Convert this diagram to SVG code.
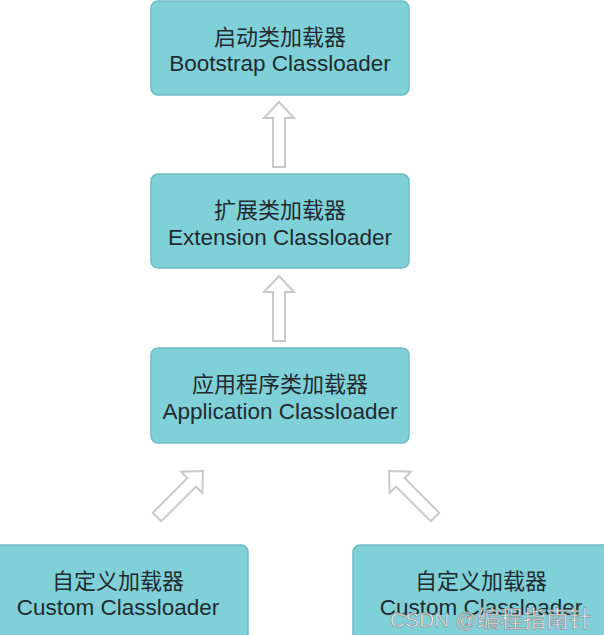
<svg xmlns="http://www.w3.org/2000/svg" width="604" height="635" viewBox="0 0 604 635">
<defs>
<style>
.box{fill:#80d0d7;stroke:#6cbcc4;stroke-width:1.5}
.cn{font-family:"Noto Sans CJK SC","Liberation Sans",sans-serif;font-size:22px;fill:#1f2b30;text-anchor:middle}
.en{font-family:"Liberation Sans","Noto Sans CJK SC",sans-serif;font-size:22.5px;fill:#1f2b30;text-anchor:middle}
.arr{fill:#ffffff;stroke:#c9c9c9;stroke-width:2;stroke-linejoin:miter}
.wm{fill:#ffffff;fill-opacity:0.9;stroke:#8a8a8a;stroke-width:0.8;stroke-opacity:0.8}
</style>
<path id="arrow" d="M0,0 L15,16 L6,16 L6,65 L-6,65 L-6,16 L-15,16 Z"/>
</defs>
<rect width="604" height="635" fill="#ffffff"/>
<g id="connectors">
<use href="#arrow" class="arr" transform="translate(279,102)"/>
<use href="#arrow" class="arr" transform="translate(279,276)"/>
<use href="#arrow" class="arr" transform="translate(203,471) rotate(45)"/>
<use href="#arrow" class="arr" transform="translate(389,471) rotate(-45)"/>
</g>
<g id="bootstrap">
<rect class="box" x="151" y="1" width="258" height="94" rx="7"/>
<text class="cn" x="280" y="45">启动类加载器</text>
<text class="en" x="280" y="71">Bootstrap Classloader</text>
</g>
<g id="extension">
<rect class="box" x="151" y="174" width="258" height="94" rx="7"/>
<text class="cn" x="280" y="218">扩展类加载器</text>
<text class="en" x="280" y="245">Extension Classloader</text>
</g>
<g id="application">
<rect class="box" x="151" y="348" width="258" height="95" rx="7"/>
<text class="cn" x="280" y="392">应用程序类加载器</text>
<text class="en" x="280" y="419">Application Classloader</text>
</g>
<g id="custom1">
<rect class="box" x="-12" y="545" width="260" height="100" rx="7"/>
<text class="cn" x="118" y="589">自定义加载器</text>
<text class="en" x="118" y="615">Custom Classloader</text>
</g>
<g id="custom2">
<rect class="box" x="353" y="545" width="260" height="100" rx="7"/>
<text class="cn" x="481" y="589">自定义加载器</text>
<text class="en" x="481" y="615">Custom Classloader</text>
</g>
<text class="wm" x="390" y="627"><tspan font-family="Liberation Sans, sans-serif" font-size="21">CSDN @</tspan><tspan font-family="Noto Sans CJK SC, sans-serif" font-size="23">编程指南针</tspan></text>
</svg>
